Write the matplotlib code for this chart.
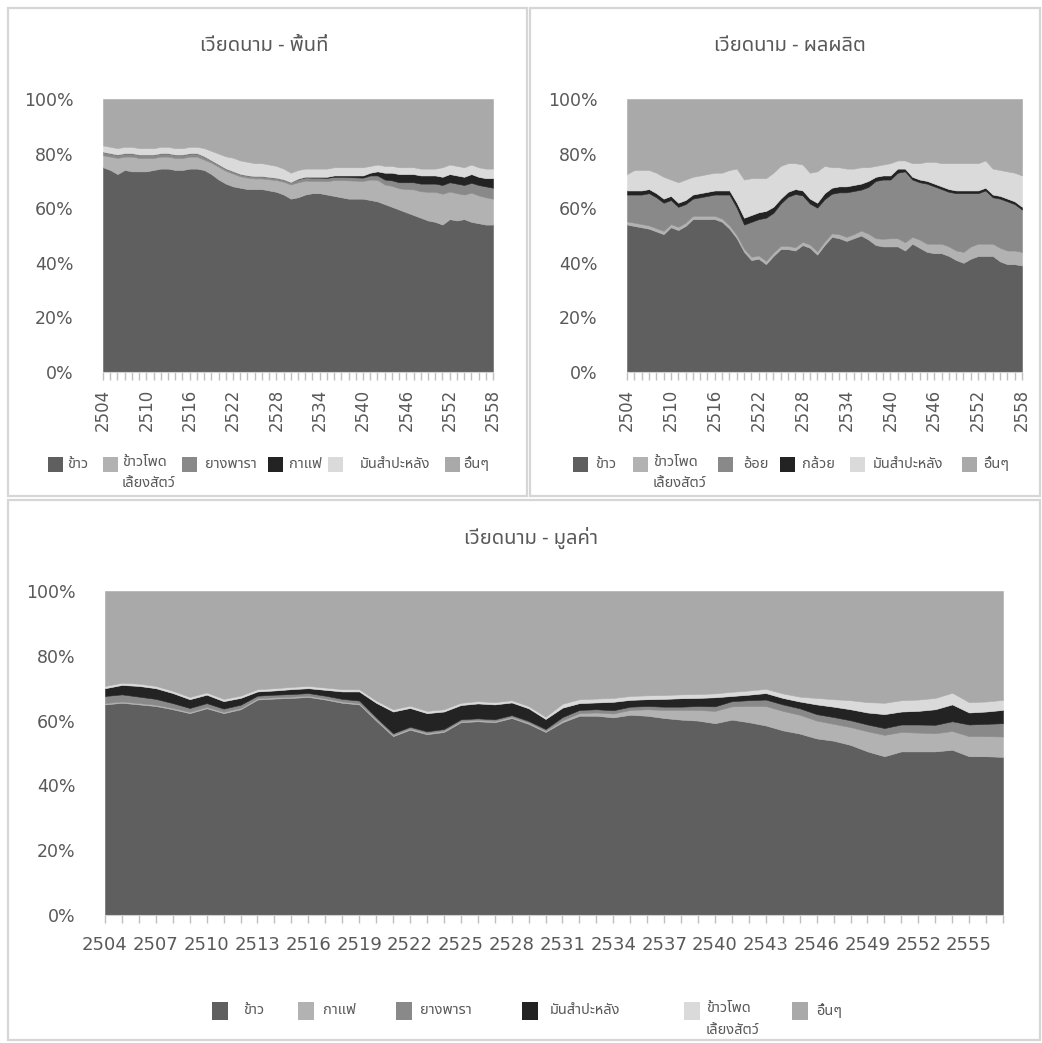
import numpy as np
import matplotlib
matplotlib.use("Agg")
import matplotlib.pyplot as plt
from matplotlib import font_manager
from matplotlib.patches import Rectangle

# ---------------------------------------------------------------- data
years_top = list(range(2504, 2559))
years_val = list(range(2504, 2558))

# Vietnam, planted area shares (%)
tl_labels = ["ข้าว", "ข้าวโพด\nเลี้ยงสัตว์", "ยางพารา", "กาแฟ", "มันสำปะหลัง", "อื่นๆ"]
tl_rice = [75, 74, 72.5, 74, 73.5, 73.5, 73.5,
           74, 74.5, 74.5, 74, 74, 74.5, 74.5,
           74, 72.5, 70.5, 69, 68, 67.5, 67,
           67, 67, 66.5, 66, 65, 63.5, 64,
           65, 65.5, 65.5, 65, 64.5, 64, 63.5,
           63.5, 63.5, 63, 62.5, 61.5, 60.5, 59.5,
           58.5, 57.5, 56.5, 55.5, 55, 54, 56,
           55.5, 56, 55, 54.5, 54, 54]
tl_maize = [4.4, 4.9, 5.9, 4.9, 5.4, 4.9, 4.9,
            4.4, 4.4, 4.4, 4.4, 4.4, 4.4, 4.4,
            3.8, 4.2, 4.7, 4.7, 4.7, 4.2, 4.2,
            3.9, 3.9, 4.1, 4.3, 4.7, 5.2, 5.5,
            5.1, 4.5, 4.5, 4.9, 5.8, 6.3, 6.7,
            6.6, 6.5, 7.5, 7.9, 7.2, 7.7, 7.8,
            8.5, 9.4, 9.7, 10.5, 11, 11.3, 10.1,
            10, 9, 10.7, 10.2, 10, 9.5]
tl_rubber = [1.2, 1.2, 1.2, 1.2, 1.2, 1.2, 1.2,
             1.2, 1.2, 1.2, 1.2, 1.2, 1.2, 1.2,
             1.2, 0.8, 0.8, 0.8, 0.8, 0.8, 0.8,
             0.8, 0.8, 0.8, 0.8, 0.8, 0.8, 1.2,
             1.2, 1.2, 1.2, 1.2, 1.2, 1.2, 1.2,
             1.2, 1.2, 1.5, 1.6, 1.8, 2.0, 2.2,
             2.5, 2.6, 2.8, 3.0, 3.0, 3.2, 3.4,
             3.5, 3.5, 3.6, 3.8, 4.0, 4.0]
tl_coffee = [0, 0, 0, 0, 0, 0, 0,
             0, 0, 0, 0, 0, 0, 0,
             0, 0, 0, 0, 0, 0, 0,
             0, 0, 0, 0, 0, 0, 0.1,
             0.2, 0.3, 0.3, 0.4, 0.5, 0.5, 0.6,
             0.7, 0.8, 1.0, 1.5, 2.5, 2.8, 3.0,
             3.0, 3.0, 3.0, 3.0, 3.0, 3.0, 3.0,
             3.0, 3.0, 3.2, 3.0, 3.0, 3.5]
tl_cassava = [2.4, 2.4, 2.4, 2.4, 2.4, 2.4, 2.4,
              2.4, 2.4, 2.4, 2.4, 2.4, 2.4, 2.4,
              3.0, 3.5, 4.0, 4.5, 5.0, 5.0, 5.0,
              4.8, 4.8, 4.6, 4.4, 4.0, 3.5, 3.2,
              3.0, 3.0, 3.0, 3.0, 3.0, 3.0, 3.0,
              3.0, 3.0, 2.5, 2.5, 2.5, 2.5, 2.5,
              2.5, 2.5, 2.5, 2.5, 2.5, 3.5, 3.5,
              3.5, 3.5, 3.5, 3.5, 3.5, 3.5]
tl_other = [17, 17.5, 18, 17.5, 17.5, 18, 18,
            18, 17.5, 17.5, 18, 18, 17.5, 17.5,
            18, 19, 20, 21, 21.5, 22.5, 23,
            23.5, 23.5, 24, 24.5, 25.5, 27, 26,
            25.5, 25.5, 25.5, 25.5, 25, 25, 25,
            25, 25, 24.5, 24, 24.5, 24.5, 25,
            25, 25, 25.5, 25.5, 25.5, 25, 24,
            24.5, 25, 24, 25, 25.5, 25.5]

# Vietnam, production shares (%)
tr_labels = ["ข้าว", "ข้าวโพด\nเลี้ยงสัตว์", "อ้อย", "กล้วย", "มันสำปะหลัง", "อื่นๆ"]
tr_rice = [54, 53.5, 53, 52.5, 51.5, 50.5, 53,
           52, 53.5, 56, 56, 56, 56, 55,
           52.5, 49, 44, 41, 41.5, 39.5, 42.5,
           45, 45, 44.5, 46.5, 45.5, 43, 46.5,
           49.5, 49, 48, 49, 50, 48.5, 46.5,
           46, 46, 46, 44.5, 47, 45.5, 44,
           43.5, 43.5, 42.5, 41, 40, 41.5, 42.5,
           42.5, 42.5, 40.5, 39.5, 39.5, 39]
tr_maize = [1.2, 1.2, 1.2, 1.2, 1.2, 1.2, 1.2,
            1.2, 1.2, 1.2, 1.2, 1.2, 1.2, 1.2,
            1.2, 1.2, 1.2, 1.2, 1.2, 1.2, 1.2,
            1.2, 1.2, 1.2, 1.2, 1.2, 1.2, 1.3,
            1.3, 1.5, 1.5, 1.5, 1.8, 2.2, 2.5,
            2.8, 3, 3, 3, 2.5, 3, 3,
            3.5, 3.5, 3.5, 3.5, 4, 4.5, 4.5,
            4.5, 4.5, 5, 5, 5, 5]
tr_sugarcane = [9.8, 10.3, 10.8, 11.8, 11.3, 10.3, 8.8,
                7.3, 6.8, 6.3, 6.8, 7.3, 7.8, 8.8,
                11.3, 10, 8.8, 12.8, 13.3, 15.8, 14.6,
                15.5, 18, 19.5, 17, 15, 16, 15.5,
                14.5, 15.3, 16.3, 15.8, 15, 17.1, 21,
                21.7, 21.5, 24, 26, 21, 21, 22,
                21, 20, 20, 21, 21.5, 19.5, 18.5,
                19.5, 17, 18, 18, 17, 15.5]
tr_banana = [1.5, 1.5, 1.5, 1.5, 1.5, 1.5, 1.5,
             1.5, 1.5, 1.5, 1.5, 1.5, 1.5, 1.5,
             1.5, 1.8, 2.5, 2.5, 2.5, 2.5, 2.2,
             1.8, 1.8, 1.8, 1.8, 1.8, 1.8, 2.2,
             2.2, 2.2, 2.2, 2.2, 2.2, 2.2, 1.5,
             1.5, 1.5, 1.5, 1.0, 1.0, 1.0, 1.0,
             1.0, 1.0, 1.0, 1.0, 1.0, 1.0, 1.0,
             1.0, 1.0, 1.0, 1.0, 1.0, 1.0]
tr_cassava = [6, 7.5, 7.5, 7, 7.5, 8, 6,
              7.5, 7.5, 6.5, 6.5, 6.5, 6.5, 6.5,
              7.5, 12.5, 14, 13.5, 12.5, 12, 12.5,
              12, 10.5, 9.5, 9.5, 9.5, 11.5, 10,
              7.5, 7, 6.5, 6, 6, 5, 4,
              4, 4.5, 3, 3, 5, 6, 7,
              8, 8.5, 9.5, 10, 10, 10, 10,
              10, 9.5, 9.5, 10, 10.5, 11.5]
tr_other = [27.5, 26, 26, 26, 27, 28.5, 29.5,
            30.5, 29.5, 28.5, 28, 27.5, 27, 27,
            26, 25.5, 29.5, 29, 29, 29, 27,
            24.5, 23.5, 23.5, 24, 27, 26.5, 24.5,
            25, 25, 25.5, 25.5, 25, 25, 24.5,
            24, 23.5, 22.5, 22.5, 23.5, 23.5, 23,
            23, 23.5, 23.5, 23.5, 23.5, 23.5, 23.5,
            22.5, 25.5, 26, 26.5, 27, 28]

# Vietnam, production value shares (%)
b_labels = ["ข้าว", "กาแฟ", "ยางพารา", "มันสำปะหลัง", "ข้าวโพด\nเลี้ยงสัตว์", "อื่นๆ"]
b_rice = [65, 65.5, 65, 64.5, 63.5, 62.3, 63.8,
          62.3, 63.5, 66.5, 66.8, 67, 67.3, 66.5,
          65.5, 65, 60, 55.2, 57.2, 55.8, 56.5,
          59.5, 59.8, 59.5, 60.8, 59, 56.5, 59.5,
          61.5, 61.5, 61, 61.8, 61.5, 60.8, 60.3,
          60, 59.2, 60.3, 59.5, 58.5, 57, 56,
          54.5, 53.8, 52.5, 50.5, 49, 50.5, 50.5,
          50.5, 51, 49, 49, 48.8]
b_coffee = [0.4, 0.4, 0.4, 0.4, 0.4, 0.4, 0.4,
            0.4, 0.4, 0.4, 0.4, 0.4, 0.4, 0.4,
            0.4, 0.4, 0.4, 0.4, 0.4, 0.4, 0.4,
            0.4, 0.4, 0.4, 0.4, 0.4, 0.4, 0.6,
            0.8, 1.0, 1.2, 1.5, 2.0, 2.5, 3.0,
            3.3, 3.8, 4.1, 5.0, 6.0, 6.0, 5.8,
            5.5, 5.2, 5.5, 6.2, 6.6, 6.0, 5.8,
            5.6, 5.8, 6.2, 6.2, 6.3]
b_rubber = [2.2, 2.2, 2.0, 1.8, 1.5, 1.2, 1.2,
            1.0, 1.0, 0.8, 0.8, 0.8, 0.8, 0.8,
            0.8, 0.8, 0.6, 0.5, 0.5, 0.5, 0.5,
            0.5, 0.5, 0.5, 0.5, 0.5, 0.5, 1.0,
            1.0, 1.0, 1.0, 1.0, 1.0, 1.0, 1.0,
            1.2, 1.4, 1.6, 1.8, 2.0, 2.0, 2.0,
            2.0, 2.1, 2.1, 2.1, 2.1, 2.3, 2.5,
            2.6, 3.0, 3.6, 3.8, 4.1]
b_cassava = [2.4, 2.9, 3.3, 3.3, 3.1, 2.7, 2.6,
             2.3, 2.1, 1.3, 1.3, 1.5, 1.5, 1.8,
             2.3, 2.8, 4.5, 6.7, 5.8, 5.6, 5.4,
             4.4, 4.6, 4.6, 3.9, 3.9, 3.1, 2.9,
             2.1, 2.1, 2.6, 2.1, 2.1, 2.4, 2.6,
             2.5, 2.8, 1.6, 1.7, 2.0, 2.0, 2.1,
             3.0, 3.2, 3.4, 3.7, 4.3, 4.0, 4.2,
             4.8, 5.2, 3.7, 3.8, 4.1]
b_maize = [0.7, 0.7, 0.7, 0.7, 0.7, 0.7, 0.7,
           0.7, 0.7, 0.7, 0.7, 0.7, 0.7, 0.7,
           0.7, 0.7, 0.7, 0.7, 0.7, 0.7, 0.7,
           0.7, 0.7, 0.7, 0.7, 0.7, 0.7, 1.2,
           1.2, 1.2, 1.2, 1.2, 1.2, 1.2, 1.2,
           1.2, 1.2, 1.3, 1.3, 1.3, 1.4, 1.5,
           2.0, 2.3, 2.8, 3.2, 3.5, 3.5, 3.5,
           3.5, 3.6, 3.2, 3.1, 3.1]
b_other = [29.3, 28.3, 28.6, 29.3, 30.8, 32.7, 31.3,
           33.3, 32.3, 30.3, 30, 29.6, 29.3, 29.8,
           30.3, 30.3, 33.8, 36.5, 35.4, 37, 36.5,
           34.5, 34, 34.3, 33.7, 35.5, 38.8, 34.8,
           33.4, 33.2, 33, 32.4, 32.2, 32.1, 31.9,
           31.8, 31.6, 31.1, 30.7, 30.2, 31.6, 32.6,
           33, 33.4, 33.7, 34.3, 34.5, 33.7, 33.5,
           33, 31.4, 34.3, 34.1, 33.6]

# ---------------------------------------------------------------- style
C_RICE = "#5f5f5f"
C_LIGHT = "#b2b2b2"
C_MID = "#898989"
C_BLACK = "#232323"
C_PALE = "#dadada"
C_OTHER = "#a9a9a9"
TXT = "#595959"

tl_colors = [C_RICE, C_LIGHT, C_MID, C_BLACK, C_PALE, C_OTHER]
tr_colors = [C_RICE, C_LIGHT, C_MID, C_BLACK, C_PALE, C_OTHER]
b_colors = [C_RICE, C_LIGHT, C_MID, C_BLACK, C_PALE, C_OTHER]


def thai_family():
    """Pick an installed family that carries Thai glyphs."""
    try:
        from fontTools.ttLib import TTFont
    except Exception:
        return None
    names = []
    for f in font_manager.fontManager.ttflist:
        try:
            kw = {"fontNumber": 0} if f.fname.lower().endswith((".ttc", ".otc")) else {}
            tt = TTFont(f.fname, lazy=True, **kw)
            cmap = tt.getBestCmap() or {}
            if 0x0E02 in cmap and 0x0E49 in cmap:
                names.append(f.name)
        except Exception:
            pass
    for pref in ["Tahoma", "Leelawadee UI", "Noto Sans Thai", "Noto Sans", "DejaVu Sans"]:
        if pref in names:
            return pref
    return names[0] if names else None


thai = thai_family()
fam = [thai, "DejaVu Sans"] if thai else ["DejaVu Sans"]
plt.rcParams["font.family"] = fam

W, H = 1042, 1043
fig = plt.figure(figsize=(W / 100, H / 100), dpi=100)


def fx(x):
    return x / W


def fy(y):
    return 1 - y / H


# panel frames
for (x0, y0, x1, y1) in [(8, 8, 527, 496), (530, 8, 1040, 496), (8, 500, 1040, 1040)]:
    fig.add_artist(Rectangle((fx(x0), fy(y1)), fx(x1) - fx(x0), fy(y0) - fy(y1),
                             transform=fig.transFigure, fill=False,
                             edgecolor="#d6d6d6", linewidth=1.6))


def area_panel(rect, years, series, colors, label_step, rotate, pad_x):
    x0, y0, x1, y1 = rect
    ax = fig.add_axes([fx(x0), fy(y1), fx(x1) - fx(x0), fy(y0) - fy(y1)])
    data = np.array(series, dtype=float)
    data = data / data.sum(axis=0) * 100.0
    polys = ax.stackplot(years, data, colors=colors, linewidth=0)
    for p, c in zip(polys, colors):
        p.set_edgecolor(c)
        p.set_linewidth(0.4)
    ax.set_xlim(years[0], years[-1])
    ax.set_ylim(0, 100)
    ax.set_yticks(range(0, 101, 20))
    ax.set_yticklabels([f"{v}%" for v in range(0, 101, 20)])
    ax.tick_params(axis="y", length=0, pad=21, labelsize=12.5, labelcolor=TXT)
    ax.set_xticks(years, minor=True)
    major = years[::label_step]
    ax.set_xticks(major)
    ax.set_xticklabels([str(v) for v in major], rotation=90 if rotate else 0,
                       fontfamily="DejaVu Sans")
    ax.tick_params(axis="x", which="both", length=6, color="#bfbfbf", width=1)
    ax.tick_params(axis="x", which="major", pad=pad_x, labelsize=12 if rotate else 13,
                   labelcolor=TXT)
    for s in ["top", "right", "left"]:
        ax.spines[s].set_visible(False)
    ax.spines["bottom"].set_color("#d0d0d0")
    for lab in ax.get_yticklabels():
        lab.set_fontfamily("DejaVu Sans")
    return ax


def legend(items, y_c, sq_w, sq_h, size, line_gap):
    for sq_x, tx_x, label, color in items:
        fig.add_artist(Rectangle((fx(sq_x), fy(y_c + sq_h / 2)), sq_w / W, sq_h / H,
                                 transform=fig.transFigure, facecolor=color,
                                 edgecolor="none"))
        lines = label.split("\n")
        for i, line in enumerate(lines):
            yy = y_c + i * line_gap
            if len(lines) > 1:
                yy = y_c - 2 + i * line_gap
            fig.text(fx(tx_x), fy(yy), line, ha="left", va="center",
                     fontsize=size, color=TXT)


# top-left: area
area_panel((103, 99, 493, 372), years_top,
           [tl_rice, tl_maize, tl_rubber, tl_coffee, tl_cassava, tl_other],
           tl_colors, 6, True, 6)
fig.text(fx(264), fy(46), "เวียดนาม - พื้นที่", ha="center", va="center",
         fontsize=14.5, color=TXT)
legend(list(zip([48, 103, 182, 268, 328, 445], [67, 122, 205, 289, 360, 463],
                tl_labels, tl_colors)), 464.5, 15, 15, 10.5, 21)

# top-right: production
area_panel((627, 99, 1022, 372), years_top,
           [tr_rice, tr_maize, tr_sugarcane, tr_banana, tr_cassava, tr_other],
           tr_colors, 6, True, 6)
fig.text(fx(790), fy(46), "เวียดนาม - ผลผลิต", ha="center", va="center",
         fontsize=14.5, color=TXT)
legend(list(zip([573, 633, 718, 780, 850, 962], [595, 653, 743, 802, 873, 983],
                tr_labels, tr_colors)), 464.5, 15, 15, 10.5, 21)

# bottom: production value
area_panel((105, 591, 1003, 915), years_val,
           [b_rice, b_coffee, b_rubber, b_cassava, b_maize, b_other],
           b_colors, 3, False, 9)
fig.text(fx(531), fy(538), "เวียดนาม - มูลค่า", ha="center", va="center",
         fontsize=14.5, color=TXT)
legend(list(zip([212, 298, 396, 522, 684, 792], [243, 323, 420, 550, 706, 816],
                b_labels, b_colors)), 1011, 16, 18, 10.5, 21)

fig.savefig("out.png", dpi=100, facecolor="white")
